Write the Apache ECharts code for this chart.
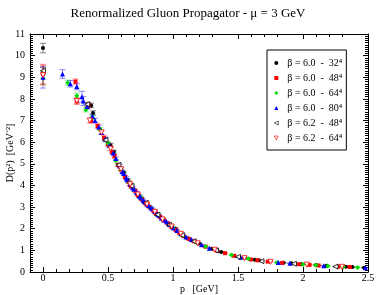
<!DOCTYPE html>
<html><head><meta charset="utf-8">
<script src="https://cdn.jsdelivr.net/npm/echarts@6/dist/echarts.min.js"></script>
<style>html,body{margin:0;padding:0;background:#fff}#c{width:376px;height:295px}</style>
</head><body><div id="c"></div>
<script>
// β = 6.0 - 32^4
const p32 = [0, 0.37, 0.385, 0.52, 0.545, 0.62, 0.65, 0.74, 0.76, 0.88, 0.92, 1.02, 1.12, 1.2, 1.3, 1.37, 1.55, 1.63, 1.66, 1.85, 1.91, 1.99, 2.1, 2.18, 2.33, 2.38, 2.47];
const d32 = [10.35, 7.7, 7.35, 5.85, 5.55, 4.6, 4.25, 3.5, 3.35, 2.65, 2.45, 2.0, 1.55, 1.32, 1.08, 0.93, 0.66, 0.57, 0.54, 0.43, 0.4, 0.36, 0.32, 0.29, 0.24, 0.23, 0.2];
const e32 = [0.22, 0.1, 0.1, 0.1, 0.08, 0.06, 0.06, 0.05, 0.05, 0.04, 0.04, 0.03, 0.03, 0.03, 0.02, 0.02, 0.02, 0.02, 0.02, 0.01, 0.01, 0.01, 0.01, 0.01, 0.01, 0.01, 0.01];
// β = 6.0 - 48^4
const p48 = [0, 0.25, 0.26, 0.35, 0.37, 0.42, 0.47, 0.5, 0.53, 0.55, 0.58, 0.6, 0.63, 0.66, 0.68, 0.71, 0.73, 0.76, 0.79, 0.82, 0.85, 0.87, 0.9, 0.93, 0.96, 0.99, 1.02, 1.05, 1.08, 1.12, 1.16, 1.25, 1.34, 1.4, 1.47, 1.6, 1.65, 1.73, 1.84, 1.97, 2.05, 2.12, 2.27, 2.36];
const d48 = [9.15, 8.8, 7.9, 7.7, 7.0, 6.75, 6.2, 5.9, 5.55, 5.35, 4.95, 4.75, 4.4, 4.15, 3.95, 3.75, 3.55, 3.38, 3.18, 3.0, 2.83, 2.7, 2.55, 2.38, 2.25, 2.08, 1.95, 1.8, 1.66, 1.53, 1.42, 1.17, 0.98, 0.87, 0.75, 0.58, 0.54, 0.48, 0.42, 0.36, 0.33, 0.3, 0.25, 0.23];
const e48 = [0.45, 0.12, 0.15, 0.12, 0.12, 0.1, 0.1, 0.08, 0.08, 0.08, 0.07, 0.07, 0.06, 0.06, 0.06, 0.05, 0.05, 0.05, 0.05, 0.04, 0.04, 0.04, 0.04, 0.04, 0.03, 0.03, 0.03, 0.03, 0.03, 0.03, 0.03, 0.02, 0.02, 0.02, 0.02, 0.02, 0.02, 0.02, 0.01, 0.01, 0.01, 0.01, 0.01, 0.01];
// β = 6.0 - 64^4
const p64 = [0, 0.19, 0.26, 0.33, 0.38, 0.44, 0.5, 0.56, 0.6, 0.66, 0.75, 0.83, 0.92, 1.0, 1.07, 1.18, 1.25, 1.45, 1.58, 1.8, 2.0, 2.1, 2.19, 2.31, 2.42];
const d64 = [8.95, 8.75, 8.15, 7.5, 7.15, 6.6, 5.95, 5.15, 4.75, 4.15, 3.45, 2.95, 2.45, 2.05, 1.7, 1.36, 1.18, 0.78, 0.61, 0.44, 0.35, 0.31, 0.28, 0.24, 0.21];
const e64 = [0.3, 0.12, 0.12, 0.1, 0.1, 0.08, 0.08, 0.07, 0.07, 0.06, 0.05, 0.04, 0.04, 0.03, 0.03, 0.03, 0.02, 0.02, 0.02, 0.01, 0.01, 0.01, 0.01, 0.01, 0.01];
// β = 6.0 - 80^4
const p80 = [0, 0.15, 0.21, 0.26, 0.3, 0.31, 0.34, 0.38, 0.4, 0.43, 0.45, 0.48, 0.51, 0.54, 0.56, 0.59, 0.61, 0.62, 0.64, 0.65, 0.67, 0.69, 0.7, 0.72, 0.74, 0.75, 0.77, 0.78, 0.8, 0.81, 0.83, 0.84, 0.86, 0.88, 0.89, 0.91, 0.93, 0.95, 0.97, 1.0, 1.03, 1.06, 1.1, 1.14, 1.22, 1.28, 1.52, 1.81, 1.9, 2.16, 2.48];
const d80 = [9.0, 9.15, 8.7, 8.57, 8.1, 7.9, 7.65, 7.2, 7.0, 6.7, 6.45, 6.15, 5.85, 5.5, 5.25, 4.9, 4.65, 4.55, 4.35, 4.25, 4.05, 3.9, 3.82, 3.67, 3.52, 3.45, 3.32, 3.25, 3.13, 3.07, 2.97, 2.92, 2.8, 2.68, 2.62, 2.5, 2.4, 2.32, 2.2, 2.05, 1.92, 1.78, 1.62, 1.5, 1.26, 1.1, 0.68, 0.44, 0.4, 0.29, 0.2];
const e80 = [0.5, 0.2, 0.15, 0.15, 0.25, 0.2, 0.12, 0.1, 0.1, 0.09, 0.09, 0.08, 0.08, 0.08, 0.07, 0.07, 0.07, 0.06, 0.06, 0.06, 0.06, 0.05, 0.05, 0.05, 0.05, 0.05, 0.05, 0.04, 0.04, 0.04, 0.04, 0.04, 0.04, 0.04, 0.04, 0.03, 0.03, 0.03, 0.03, 0.03, 0.03, 0.03, 0.03, 0.03, 0.02, 0.02, 0.02, 0.01, 0.01, 0.01, 0.01];
// β = 6.2 - 48^4
const q48 = [0, 0.34, 0.48, 0.58, 0.68, 0.79, 0.88, 0.97, 1.07, 1.16, 1.33, 1.5, 1.68, 1.93, 2.25];
const f48 = [9.3, 7.75, 6.1, 4.95, 3.98, 3.2, 2.65, 2.18, 1.7, 1.42, 1.0, 0.7, 0.5, 0.38, 0.25];
const g48 = [0.15, 0.1, 0.08, 0.07, 0.06, 0.05, 0.04, 0.03, 0.03, 0.03, 0.02, 0.02, 0.02, 0.01, 0.01];
// β = 6.2 - 64^4
const q64 = [0, 0.26, 0.36, 0.45, 0.52, 0.6, 0.67, 0.73, 0.8, 0.86, 0.92, 0.99, 1.06, 1.19, 1.32, 1.55, 1.75, 2.03, 2.3];
const f64 = [9.1, 7.9, 7.0, 6.45, 5.7, 4.75, 4.05, 3.58, 3.12, 2.78, 2.43, 2.1, 1.77, 1.33, 1.03, 0.64, 0.47, 0.34, 0.24];
const g64 = [0.45, 0.12, 0.1, 0.09, 0.08, 0.07, 0.06, 0.05, 0.04, 0.04, 0.04, 0.03, 0.03, 0.03, 0.02, 0.02, 0.02, 0.01, 0.01];

const names = ['β = 6.0  -  32⁴', 'β = 6.0  -  48⁴', 'β = 6.0  -  64⁴', 'β = 6.0  -  80⁴', 'β = 6.2  -  48⁴', 'β = 6.2  -  64⁴'];
const xTicks = [0, 0.5, 1, 1.5, 2, 2.5];

const triLeft = 'path://M0,5 L10,0 L10,10 Z';
const triDown = 'path://M0,0 L10,0 L5,10 Z';
const sets = [
  {p: p32, d: d32, e: e32, color: '#000000', symbol: 'circle', size: 4, hollow: false},
  {p: p48, d: d48, e: e48, color: '#ff0000', symbol: 'rect', size: 4, hollow: false},
  {p: p64, d: d64, e: e64, color: '#00dd00', symbol: 'diamond', size: 5, hollow: false},
  {p: p80, d: d80, e: e80, color: '#0000ff', symbol: 'triangle', size: 5, hollow: false},
  {p: q48, d: f48, e: g48, color: '#000000', symbol: triLeft, size: 5, hollow: true},
  {p: q64, d: f64, e: g64, color: '#ff0000', symbol: triDown, size: 5, hollow: true}
];

const serif = 'Liberation Serif';
const series = [];
sets.forEach((s, i) => {
  const data = s.p.map((x, k) => [x, s.d[k], s.e[k]]);
  series.push({
    type: 'custom', name: 'err' + i, data: data, silent: true, z: 2,
    renderItem: function (params, api) {
      const x = api.value(0), y = api.value(1), e = api.value(2);
      const t = api.coord([x, y + e]);
      const b = api.coord([x, y - e]);
      const st = {stroke: s.color, lineWidth: 1, opacity: 0.45};
      return {type: 'group', children: [
        {type: 'line', shape: {x1: t[0], y1: t[1], x2: b[0], y2: b[1]}, style: st},
        {type: 'line', shape: {x1: t[0] - 3, y1: t[1], x2: t[0] + 3, y2: t[1]}, style: st},
        {type: 'line', shape: {x1: b[0] - 3, y1: b[1], x2: b[0] + 3, y2: b[1]}, style: st}
      ]};
    }
  });
  series.push({
    type: 'scatter', name: names[i], data: data.map(v => [v[0], v[1]]), z: 3,
    symbol: s.symbol, symbolSize: s.size,
    itemStyle: s.hollow ? {color: '#ffffff', borderColor: s.color, borderWidth: 0.8, opacity: 1} : {color: s.color, opacity: 1}
  });
});

const legendData = names.map((n, i) => {
  const s = sets[i];
  if (!s.hollow) return {name: n};
  return {name: n, icon: s.symbol, itemStyle: {color: '#ffffff', borderColor: s.color, borderWidth: 0.6}};
});

const axLine = {show: true, onZero: false, lineStyle: {color: '#000', width: 1}};

const chart = echarts.init(document.getElementById('c'), null, {renderer: 'canvas'});
chart.setOption({
  animation: false,
  backgroundColor: '#fff',
  title: {text: 'Renormalized Gluon Propagator - μ = 3 GeV', left: 'center', top: 2,
    textStyle: {fontFamily: serif, fontSize: 13, fontWeight: 'normal', color: '#000'}},
  grid: {left: 30, right: 8, top: 34, bottom: 23, containLabel: false, outerBoundsMode: 'none'},
  legend: {
    orient: 'vertical', left: 267, top: 50, data: legendData,
    backgroundColor: '#fff', borderColor: '#000', borderWidth: 1,
    padding: [7, 4, 6, 7], itemGap: 3, itemWidth: 4, itemHeight: 4,
    textStyle: {fontFamily: serif, fontSize: 10, color: '#000', lineHeight: 12, padding: [0, 0, 0, 4]}
  },
  xAxis: [
    {type: 'value', min: -0.1, max: 2.5, interval: 0.5, position: 'bottom',
      name: 'p   [GeV]', nameLocation: 'middle', nameGap: 12, nameMoveOverlap: false,
      nameTextStyle: {fontFamily: serif, fontSize: 10, color: '#000'},
      axisLine: axLine,
      axisLabel: {fontFamily: serif, fontSize: 10, color: '#000', margin: 1, customValues: xTicks},
      axisTick: {show: true, inside: true, length: 5, lineStyle: {color: '#000'}, customValues: xTicks},
      minorTick: {show: true, splitNumber: 5, length: 3, lineStyle: {color: '#000'}}, splitLine: {show: false}},
    {type: 'value', min: -0.1, max: 2.5, interval: 0.5, position: 'top',
      axisLine: axLine, axisLabel: {show: false},
      axisTick: {show: true, inside: true, length: 5, lineStyle: {color: '#000'}, customValues: xTicks},
      minorTick: {show: true, splitNumber: 5, length: 3, lineStyle: {color: '#000'}}, splitLine: {show: false}}
  ],
  yAxis: [
    {type: 'value', min: 0, max: 11, interval: 1, position: 'left',
      name: 'D(p²)  [GeV⁻²]', nameLocation: 'middle', nameGap: 15, nameRotate: 90, nameMoveOverlap: false,
      nameTextStyle: {fontFamily: serif, fontSize: 10, color: '#000'},
      axisLabel: {fontFamily: serif, fontSize: 10, color: '#000', margin: 5},
      axisLine: axLine, axisTick: {show: true, inside: true, length: 5, lineStyle: {color: '#000'}},
      minorTick: {show: true, splitNumber: 10, length: 3, lineStyle: {color: '#000'}}, splitLine: {show: false}},
    {type: 'value', min: 0, max: 11, interval: 1, position: 'right',
      axisLabel: {show: false},
      axisLine: axLine, axisTick: {show: true, inside: true, length: 5, lineStyle: {color: '#000'}},
      minorTick: {show: true, splitNumber: 10, length: 3, lineStyle: {color: '#000'}}, splitLine: {show: false}}
  ],
  series: series
});
</script></body></html>
